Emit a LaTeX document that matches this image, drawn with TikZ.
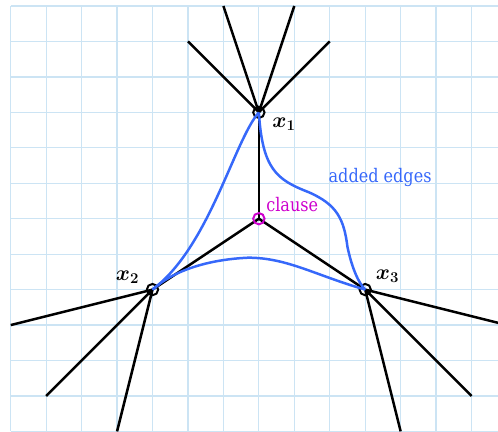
\documentclass[tikz,border=0pt]{standalone}
\usepackage{bm}
\usepackage{fontspec}
\newfontfamily\slabfont{DejaVu Serif}
\usetikzlibrary{positioning, backgrounds}

\definecolor{gridblue}{RGB}{204,228,244}
\definecolor{edgeblue}{RGB}{54,104,250}
\definecolor{clausepink}{RGB}{205,0,205}

\begin{document}
\begin{tikzpicture}[
    varnode/.style={draw=black, line width=1.6pt, circle, inner sep=0pt, minimum size=0.32cm},
    clausenode/.style={varnode, draw=clausepink},
    edge/.style={line width=2pt, black},
    added/.style={line width=2pt, edgeblue},
    varlabel/.style={font=\fontsize{16.5}{18}\selectfont},
    note/.style={font=\slabfont\fontsize{15}{17}\selectfont, xscale=0.86, transform shape}
  ]
  \clip (-0.302,0.169) rectangle (13.746,-12.017);

  % Knoten
  \node[varnode, label={[varlabel, label distance=2pt]-8:$\bm{x_1}$}] (x1) at (7,-3) {};
  \node[clausenode, label={[note, text=clausepink, anchor=south west, inner sep=2pt]40:clause}] (clause) at (7,-6) {};
  \node[varnode, label={[varlabel, label distance=2pt]168:$\bm{x_2}$}] (x2) at (4,-8) {};
  \node[varnode, label={[varlabel, label distance=0pt]20:$\bm{x_3}$}] (x3) at (10,-8) {};

  % Kanten
  \begin{scope}[on background layer]
    \draw[gridblue, line width=1pt] (0,-12) grid (14,0);
    \draw[edge] (clause.center) -- (x1.center);
    \draw[edge] (clause.center) -- (x2.center);
    \draw[edge] (clause.center) -- (x3.center);
    \foreach \v/\tx/\ty in {x1/6/0, x1/5/-1, x1/8/0, x1/9/-1, x2/0/-9, x2/1/-11, x2/3/-12, x3/14/-9, x3/13/-11, x3/11/-12}
      \draw[edge] (\v.center) -- (\tx,\ty);
  \end{scope}

  % hinzugefuegte Kanten
  \draw[added] (x1.center) .. controls (6.3,-3.8) and (5.6,-6.8) .. (x2.center);
  \draw[added] (x1.center) .. controls (7.1,-4.6) and (7.5,-4.9) .. (8.4,-5.25)
    .. controls (9.2,-5.6) and (9.4,-6.0) .. (9.5,-6.8)
    .. controls (9.65,-7.5) and (9.85,-7.85) .. (x3.center);
  \draw[added] (x2.center) .. controls (4.6,-7.45) and (5.6,-7.15) .. (6.7,-7.1)
    .. controls (7.8,-7.1) and (8.6,-7.6) .. (x3.center);

  \node[note, text=edgeblue] (addlabel) at (10.42,-4.85) {added edges};
\end{tikzpicture}
\end{document}
